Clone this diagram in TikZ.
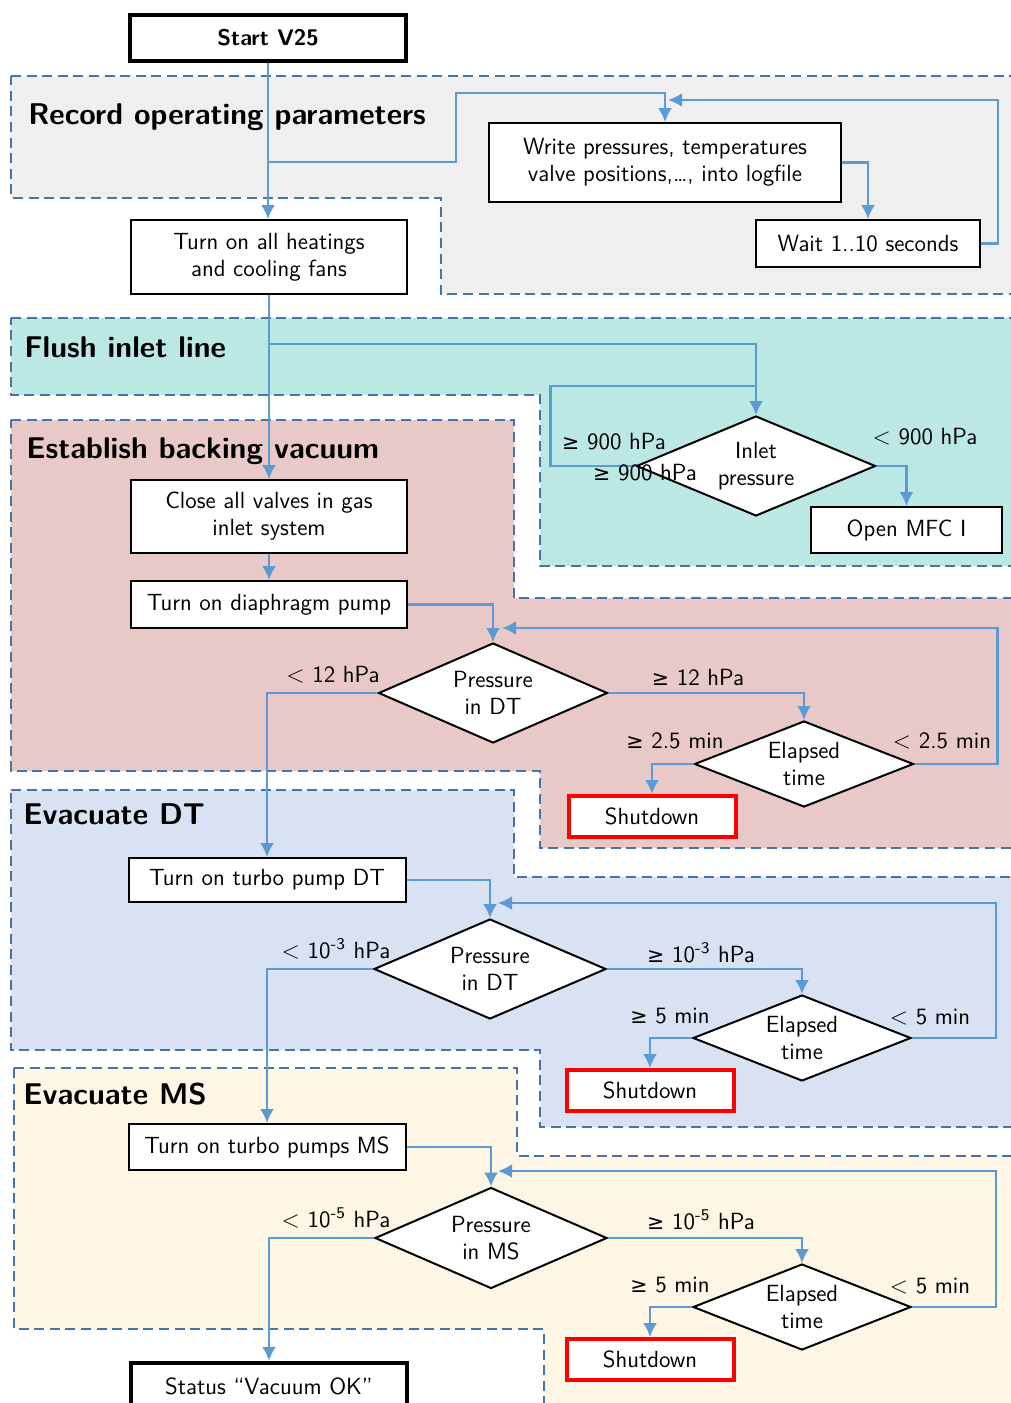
\documentclass[tikz,border=0pt]{standalone}
\usepackage{fontspec}
\newfontfamily\symf{DejaVu Sans}[Scale=0.88]
\usetikzlibrary{arrows.meta,shapes.geometric,calc}

\definecolor{regline}{HTML}{4674A8}
\definecolor{flowc}{HTML}{5B9BD5}
\definecolor{recfill}{HTML}{EFEFEF}
\definecolor{flushfill}{HTML}{BCE8E4}
\definecolor{backfill}{HTML}{E8C9C8}
\definecolor{dtfill}{HTML}{D9E2F3}
\definecolor{msfill}{HTML}{FEF6E4}

\newcommand\gesym{{\symf ≥}}

\tikzset{
  region/.style={draw=regline, line width=1pt, dash pattern=on 5pt off 2.8pt},
  procbox/.style={rectangle, draw=black, fill=white, line width=1pt, align=center, inner sep=0pt},
  termbox/.style={procbox, line width=2.2pt, font=\sffamily\bfseries\fontsize{11.3}{13.5}\selectfont},
  stopbox/.style={procbox, draw=red, line width=2pt},
  decision/.style={diamond, draw=black, fill=white, line width=1pt, align=center, inner sep=0pt, aspect=2.5},
  link/.style={draw=flowc, line width=1.1pt},
  flow/.style={link, -{Latex[length=7pt,width=7pt]}},
  lbl/.style={inner sep=0pt},
  phase/.style={anchor=base west, inner sep=0pt, font=\sffamily\bfseries\fontsize{15}{18}\selectfont},
}

\begin{document}
\begin{tikzpicture}[x=0.5pt, y=-0.5pt, font=\sffamily\fontsize{11.7}{13.5}\selectfont]
\useasboundingbox (0,0) rectangle (1011,1403);
\clip (0,0) rectangle (1011,1403);

% phase regions
\filldraw[region, fill=recfill]   (11,76) -- (1030,76) -- (1030,294) -- (441,294) -- (441,198) -- (11,198) -- cycle;
\filldraw[region, fill=flushfill] (11,318) -- (1030,318) -- (1030,566) -- (540,566) -- (540,395) -- (11,395) -- cycle;
\filldraw[region, fill=backfill]  (11,420) -- (514,420) -- (514,598) -- (1030,598) -- (1030,848) -- (540,848) -- (540,771) -- (11,771) -- cycle;
\filldraw[region, fill=dtfill]    (11,790) -- (514,790) -- (514,877) -- (1030,877) -- (1030,1127) -- (540,1127) -- (540,1050) -- (11,1050) -- cycle;
\filldraw[region, fill=msfill]    (14,1068) -- (517,1068) -- (517,1156) -- (1030,1156) -- (1030,1430) -- (544,1430) -- (544,1329) -- (14,1329) -- cycle;

% phase titles
\node[phase] (t1) at (28,124) {Record operating parameters};
\node[phase] (t2) at (24,357) {Flush inlet line};
\node[phase] (t3) at (26,458) {Establish backing vacuum};
\node[phase] (t4) at (23,824) {Evacuate DT};
\node[phase] (t5) at (23,1104) {Evacuate MS};

% steps
\node[termbox, minimum width=138pt, minimum height=23pt] (start) at (268,38) {Start V25};
\node[procbox, minimum width=138pt, minimum height=37pt] (heat) at (269,257) {Turn on all heatings\\and cooling fans};
\node[procbox, minimum width=176pt, minimum height=39.5pt] (write) at (665,162.5) {Write pressures, temperatures\\valve positions,\ldots, into logfile};
\node[procbox, minimum width=112pt, minimum height=23.5pt] (wait) at (868,243.5) {Wait 1..10 seconds};

\node[decision, minimum width=119.5pt, minimum height=50pt] (inlet) at (756,466) {Inlet\\pressure};
\node[procbox, minimum width=95.5pt, minimum height=23pt] (mfc) at (906.5,530) {Open MFC I};

\node[procbox, minimum width=138pt, minimum height=36.5pt] (close) at (269,516.5) {Close all valves in gas\\inlet system};
\node[procbox, minimum width=138pt, minimum height=23.5pt] (diaph) at (269,604.5) {Turn on diaphragm pump};
\node[decision, minimum width=114.5pt, minimum height=50pt] (pd1) at (493,693) {Pressure\\in DT};
\node[decision, minimum width=109.5pt, minimum height=43pt] (el1) at (804,764) {Elapsed\\time};
\node[stopbox, minimum width=83.5pt, minimum height=20.5pt] (sd1) at (652,816.5) {Shutdown};

\node[procbox, minimum width=138.5pt, minimum height=22pt] (tdt) at (267,880) {Turn on turbo pump DT};
\node[decision, minimum width=116pt, minimum height=50pt] (pd2) at (490,969) {Pressure\\in DT};
\node[decision, minimum width=109pt, minimum height=43pt] (el2) at (802,1038) {Elapsed\\time};
\node[stopbox, minimum width=83.5pt, minimum height=20.5pt] (sd2) at (650,1090.5) {Shutdown};

\node[procbox, minimum width=138.5pt, minimum height=23pt] (tms) at (267,1147) {Turn on turbo pumps MS};
\node[decision, minimum width=116pt, minimum height=50.5pt] (pms) at (491,1238) {Pressure\\in MS};
\node[decision, minimum width=109pt, minimum height=43pt] (el3) at (802,1307) {Elapsed\\time};
\node[stopbox, minimum width=83.5pt, minimum height=20.5pt] (sd3) at (650,1359.5) {Shutdown};

\node[termbox, font=\sffamily\fontsize{11.7}{13.5}\selectfont, minimum width=138pt, minimum height=23pt] (status) at (269,1386) {Status “Vacuum OK”};

% junctions and return points
\coordinate (b1) at (268,162);
\coordinate (wret) at (668,100);
\coordinate (b2) at (269,344);
\coordinate (b3) at (756,386);
\coordinate (r1) at (502,628);
\coordinate (r2) at (498,903);
\coordinate (r3) at (498,1171);

% connectors: logging loop
\draw[flow] (start.south) -- (start.south |- heat.north);
\draw[flow] (b1) -- ++(188,0) |- ($(write.north)+(0,-29)$) -- (write.north);
\draw[flow] (write.east) -| (wait.north);
\draw[flow] (wait.east) -- ++(17,0) |- (wret);

% connectors: flushing
\draw[flow] (heat.south) -- (heat.south |- close.north);
\draw[flow] (b2) -| (inlet.north);
\draw[link] (inlet.west) -- ++(-85,0) |- (b3);
\draw[flow] (inlet.east) -| (mfc.north);

% connectors: backing vacuum
\draw[flow] (close) -- (diaph);
\draw[flow] (diaph.east) -| (pd1.north);
\draw[flow] (pd1.west) -| (tdt.north);
\draw[flow] (pd1.east) -| (el1.north);
\draw[flow] (el1.west) -| (sd1.north);
\draw[flow] (el1.east) -- ++(83,0) |- (r1);

% connectors: drift tube
\draw[flow] (tdt.east) -| (pd2.north);
\draw[flow] (pd2.west) -| (tms.north);
\draw[flow] (pd2.east) -| (el2.north);
\draw[flow] (el2.west) -| (sd2.north);
\draw[flow] (el2.east) -- ++(84,0) |- (r2);

% connectors: mass spectrometer
\draw[flow] (tms.east) -| (pms.north);
\draw[flow] (pms.west) -| (status.north);
\draw[flow] (pms.east) -| (el3.north);
\draw[flow] (el3.west) -| (sd3.north);
\draw[flow] (el3.east) -- ++(84,0) |- (r3);

% branch labels
\node[lbl] (g900a) at (614,442) {\gesym\ 900 hPa};
\node[lbl] (g900b) at (645,473) {\gesym\ 900 hPa};
\node[lbl] (l900) at (925,437) {$<$ 900 hPa};
\node[lbl] (l12) at (333,675) {$<$ 12 hPa};
\node[lbl] (g12) at (698,677) {\gesym\ 12 hPa};
\node[lbl] (g25) at (675,741) {\gesym\ 2.5 min};
\node[lbl] (l25) at (942,741) {$<$ 2.5 min};
\node[lbl] (l3) at (336,949) {$<$ 10\textsuperscript{-3} hPa};
\node[lbl] (g3) at (701,953) {\gesym\ 10\textsuperscript{-3} hPa};
\node[lbl] (g5a) at (670,1016) {\gesym\ 5 min};
\node[lbl] (l5a) at (930,1017) {$<$ 5 min};
\node[lbl] (l5) at (336,1218) {$<$ 10\textsuperscript{-5} hPa};
\node[lbl] (g5) at (701,1220) {\gesym\ 10\textsuperscript{-5} hPa};
\node[lbl] (g5b) at (670,1285) {\gesym\ 5 min};
\node[lbl] (l5b) at (930,1286) {$<$ 5 min};
\end{tikzpicture}
\end{document}
